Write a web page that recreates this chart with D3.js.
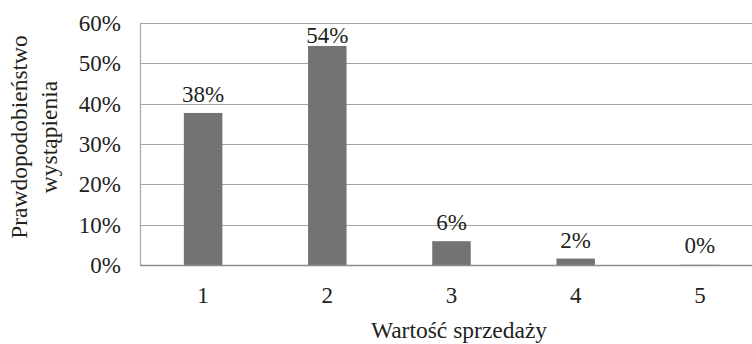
<!DOCTYPE html>
<html>
<head>
<meta charset="utf-8">
<script src="https://cdn.jsdelivr.net/npm/d3@7"></script>
<style>
  html, body { margin: 0; padding: 0; background: #fff; }
</style>
</head>
<body>
<svg id="chart" width="752" height="344"></svg>
<script>
// Sales value categories and the probability of each
const categories = ["1", "2", "3", "4", "5"];
const probabilities = [0.377, 0.543, 0.059, 0.016, 0.002];
const yTicks = [0, 0.1, 0.2, 0.3, 0.4, 0.5, 0.6];
const xTitle = "Wartość sprzedaży";
const yTitleLines = ["Prawdopodobieństwo", "wystąpienia"];

const serif = "\"Liberation Serif\"";
const textColor = "#231f20";
const fontSize = 23;
const titleSize = 23.5;

const svg = d3.select("#chart");
const margin = { left: 141, top: 23, bottom: 265 };
const plotRight = 762;

const x = d3.scaleBand()
  .domain(categories)
  .range([margin.left, plotRight])
  .paddingInner(0.69)
  .paddingOuter(0.345);

const y = d3.scaleLinear()
  .domain([0, 0.6])
  .range([margin.bottom, margin.top]);

const pct = d3.format(".0%");

function styleText(sel, size = fontSize) {
  return sel.style("font-family", serif)
    .style("font-size", size + "px")
    .attr("fill", textColor);
}

// horizontal gridlines
svg.append("g")
  .selectAll("line")
  .data(yTicks.filter(d => d > 0))
  .join("line")
  .attr("x1", margin.left - 0.5)
  .attr("x2", plotRight)
  .attr("y1", d => Math.round(y(d)) + 0.5)
  .attr("y2", d => Math.round(y(d)) + 0.5)
  .attr("stroke", "#a5a5a5")
  .attr("stroke-width", 1.2);

// left border of the plot area
svg.append("line")
  .attr("x1", margin.left - 0.5)
  .attr("x2", margin.left - 0.5)
  .attr("y1", Math.round(y(0.6)))
  .attr("y2", margin.bottom + 1)
  .attr("stroke", "#a5a5a5")
  .attr("stroke-width", 1.2);

const rows = categories.map((c, i) => ({ c, v: probabilities[i] }));

// bars
svg.append("g")
  .selectAll("rect")
  .data(rows)
  .join("rect")
  .attr("x", d => x(d.c))
  .attr("width", x.bandwidth())
  .attr("y", d => y(d.v))
  .attr("height", d => y(0) - y(d.v))
  .attr("fill", d => d.v < 0.005 ? "#d9d9d9" : "#747373");

// value labels above the bars, kept inside the plot area
svg.append("g")
  .selectAll("text")
  .data(rows)
  .join("text")
  .attr("x", d => x(d.c) + x.bandwidth() / 2)
  .attr("y", d => Math.max(y(d.v) - 11, margin.top + 20))
  .attr("text-anchor", "middle")
  .call(styleText)
  .text(d => pct(d.v));

// x axis baseline
svg.append("line")
  .attr("x1", margin.left - 1)
  .attr("x2", plotRight)
  .attr("y1", margin.bottom + 0.5)
  .attr("y2", margin.bottom + 0.5)
  .attr("stroke", "#8c8c8c")
  .attr("stroke-width", 1.6);

// y axis tick labels
const yAxis = d3.axisLeft(y).tickValues(yTicks).tickFormat(pct).tickSize(0).tickPadding(20);
const gy = svg.append("g").attr("transform", `translate(${margin.left},0)`).call(yAxis);
gy.select(".domain").remove();
gy.selectAll("text").call(styleText);

// x axis tick labels
const xAxis = d3.axisBottom(x).tickSize(0).tickPadding(22);
const gx = svg.append("g").attr("transform", `translate(0,${margin.bottom})`).call(xAxis);
gx.select(".domain").remove();
gx.selectAll("text").call(styleText);

// axis titles
svg.append("text")
  .attr("x", 459)
  .attr("y", 338)
  .attr("text-anchor", "middle")
  .call(styleText, titleSize)
  .text(xTitle);

const yTitle = svg.append("text")
  .attr("transform", "translate(27,137) rotate(-90)")
  .attr("text-anchor", "middle")
  .call(styleText, titleSize);
yTitleLines.forEach((line, i) => {
  yTitle.append("tspan")
    .attr("x", 0)
    .attr("dy", i === 0 ? 0 : 30)
    .text(line);
});
</script>
</body>
</html>
